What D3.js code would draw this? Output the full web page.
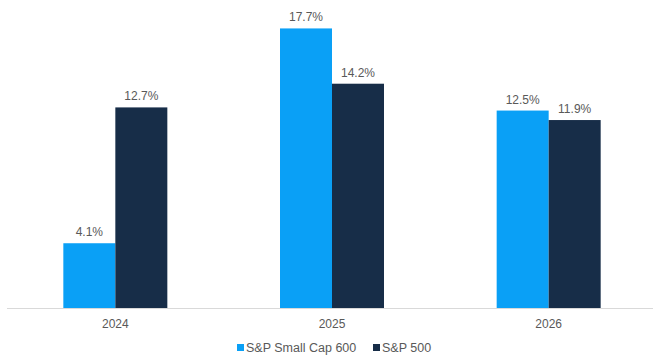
<!DOCTYPE html>
<html lang="en">
<head>
    <meta charset="UTF-8">
    <title>S&amp;P 600 vs S&amp;P 500</title>
    <script src="https://d3js.org/d3.v7.min.js"></script>
    <style>
        body { margin: 0; background: #fff; font-family: "Liberation Sans", Arial, sans-serif; }
    </style>
</head>
<body>
    <div id="chart"></div>
    <script>
        // chart values
        var years = ["2024", "2025", "2026"];
        var seriesNames = ["S&P Small Cap 600", "S&P 500"];
        var smallCap = [4.1, 17.7, 12.5];
        var sp500 = [12.7, 14.2, 11.9];
        var colors = ["#0aa0f6", "#172d48"];

        var width = 653, height = 356;
        var baseY = 308;

        var svg = d3.select("#chart").append("svg")
            .attr("width", width)
            .attr("height", height);

        // group scale and per-series scale inside each group
        var x = d3.scaleBand().domain(years).range([7, 657]).paddingInner(0.52).paddingOuter(0.26);
        var xs = d3.scaleBand().domain(seriesNames).range([0, x.bandwidth()]);
        var y = d3.scaleLinear().domain([0, 19.5]).range([baseY, 0]);

        var rows = years.map((yr, i) => ({ year: yr, values: [smallCap[i], sp500[i]] }));

        var groups = svg.selectAll(".grp")
            .data(rows)
            .enter().append("g")
            .attr("class", "grp")
            .attr("transform", d => `translate(${x(d.year)},0)`);

        var bars = groups.selectAll("g.bar")
            .data(d => d.values.map((v, j) => ({ name: seriesNames[j], value: v, idx: j })))
            .enter().append("g")
            .attr("class", "bar");

        bars.append("rect")
            .attr("x", d => xs(d.name))
            .attr("y", d => y(d.value))
            .attr("width", xs.bandwidth())
            .attr("height", d => baseY - y(d.value))
            .attr("fill", d => colors[d.idx]);

        // value labels above bars
        bars.append("text")
            .attr("x", d => xs(d.name) + xs.bandwidth() / 2)
            .attr("y", d => y(d.value) - 7)
            .attr("text-anchor", "middle")
            .style("font-size", "12px")
            .style("fill", "#595959")
            .text(d => d.value.toFixed(1) + "%");

        // x axis
        var xAxis = svg.append("g")
            .attr("transform", `translate(0,${baseY})`)
            .call(d3.axisBottom(x).tickSize(0).tickPadding(11));
        xAxis.select(".domain").attr("stroke", "#d9d9d9").attr("d", "M7,0.5H653");
        xAxis.selectAll("text")
            .style("font-family", "Liberation Sans, Arial, sans-serif")
            .style("font-size", "12px")
            .style("fill", "#595959");

        // legend
        var legendX = [237, 373];
        var legend = svg.selectAll(".legend")
            .data(seriesNames)
            .enter().append("g")
            .attr("class", "legend")
            .attr("transform", (d, i) => `translate(${legendX[i]},344)`);

        legend.append("rect")
            .attr("width", 7)
            .attr("height", 7)
            .attr("fill", (d, i) => colors[i]);

        legend.append("text")
            .attr("x", 9)
            .attr("y", 8)
            .style("font-size", "12.5px")
            .style("fill", "#595959")
            .text(d => d);
    </script>
</body>
</html>
